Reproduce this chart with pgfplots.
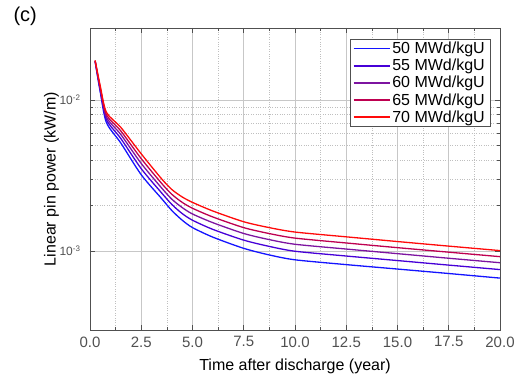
\documentclass[border=0pt]{standalone}
\usepackage{fontspec}
\setmainfont{Liberation Sans}
\usepackage{pgfplots}
\pgfplotsset{compat=1.18}
\definecolor{c50}{RGB}{20,20,255}
\definecolor{c55}{RGB}{70,0,215}
\definecolor{c60}{RGB}{125,20,160}
\definecolor{c65}{RGB}{190,0,80}
\definecolor{c70}{RGB}{255,10,10}
\definecolor{axgray}{RGB}{80,80,80}
\begin{document}
\begin{tikzpicture}
\path[use as bounding box] (-90pt,-52pt) rectangle (432pt,330pt);
\node[anchor=north west,font=\fontsize{20}{22}\selectfont] at (-80pt,327pt) {(c)};
\begin{axis}[
  scale only axis, width=410pt, height=302pt,
  ymode=log, xmin=0, xmax=20, ymin=3e-4, ymax=3e-2,
  xtick={0,2.5,...,20}, minor x tick num=1,
  ytick={1e-3,1e-2}, yticklabels={10\textsuperscript{-3},10\textsuperscript{-2}},
  xticklabel style={/pgf/number format/.cd, fixed, fixed zerofill, precision=1, assume math mode=true},
  xticklabel shift=3pt, yticklabel shift=6pt,
  tick label style={font=\fontsize{15}{17}\selectfont, text=axgray},
  yticklabel style={font=\fontsize{12}{14}\selectfont},
  tick align=inside, major tick length=5pt, minor tick length=3pt,
  tick style={axgray, line width=0.6pt},
  axis line style={axgray, line width=0.8pt},
  grid=both,
  major grid style={black!22, line width=0.6pt},
  minor grid style={black!25, dotted, line width=0.5pt},
  xlabel={Time after discharge (year)},
  ylabel={Linear pin power (kW/m)},
  label style={font=\fontsize{16}{18}\selectfont},
  xlabel style={at={(axis description cs:0.5,-0.1215)}, anchor=center},
  ylabel style={at={(axis description cs:-0.094,0.5)}, anchor=center},
  legend style={at={(0.9756,0.9636)}, anchor=north east, draw=axgray,
    font=\fontsize{16}{18}\selectfont, row sep=0pt, inner xsep=3pt, inner ysep=1pt},
  legend cell align=left,
  legend image code/.code={\draw[#1, line width=1.5pt] (0pt,0pt) -- (36pt,0pt);},
]
\addplot[color=c50, line width=1.3pt, smooth, tension=0.45] coordinates {(0.25,0.0180)(0.5,0.0113)(0.8,0.0071)(1.5,0.0052)(2.5,0.0032)(3.5,0.00222)(4.0,0.00185)(4.5,0.00160)(5.0,0.00143)(6.0,0.001235)(7.5,0.001042)(8.75,0.000942)(10,0.000875)(12.5,0.000813)(15,0.000760)(17.5,0.000710)(20,0.000662)};
\addlegendentry{50 MWd/kgU}
\addplot[color=c55, line width=1.3pt, smooth, tension=0.45] coordinates {(0.25,0.0181)(0.5,0.0116)(0.8,0.00743)(1.5,0.00557)(2.5,0.00351)(3.5,0.00242)(4.0,0.00203)(4.5,0.00177)(5.0,0.00160)(6.0,0.00139)(7.5,0.001181)(8.75,0.001073)(10,0.000997)(12.5,0.000927)(15,0.000865)(17.5,0.000807)(20,0.000754)};
\addlegendentry{55 MWd/kgU}
\addplot[color=c60, line width=1.3pt, smooth, tension=0.45] coordinates {(0.25,0.0182)(0.5,0.0118)(0.8,0.00772)(1.5,0.00592)(2.5,0.00380)(3.5,0.00261)(4.0,0.00220)(4.5,0.00194)(5.0,0.00176)(6.0,0.00154)(7.5,0.001307)(8.75,0.001190)(10,0.001109)(12.5,0.001031)(15,0.000961)(17.5,0.000896)(20,0.000837)};
\addlegendentry{60 MWd/kgU}
\addplot[color=c65, line width=1.3pt, smooth, tension=0.45] coordinates {(0.25,0.0182)(0.5,0.0121)(0.8,0.00800)(1.5,0.00625)(2.5,0.00409)(3.5,0.00280)(4.0,0.00237)(4.5,0.00210)(5.0,0.00192)(6.0,0.00168)(7.5,0.001429)(8.75,0.001305)(10,0.001218)(12.5,0.001131)(15,0.001053)(17.5,0.000983)(20,0.000918)};
\addlegendentry{65 MWd/kgU}
\addplot[color=c70, line width=1.3pt, smooth, tension=0.45] coordinates {(0.25,0.0183)(0.5,0.0124)(0.8,0.0083)(1.5,0.0066)(2.5,0.0044)(3.5,0.0030)(4.0,0.00255)(4.5,0.00228)(5.0,0.00210)(6.0,0.00184)(7.5,0.001563)(8.75,0.001429)(10,0.001336)(12.5,0.001242)(15,0.001156)(17.5,0.001078)(20,0.001007)};
\addlegendentry{70 MWd/kgU}
\end{axis}
\end{tikzpicture}
\end{document}
